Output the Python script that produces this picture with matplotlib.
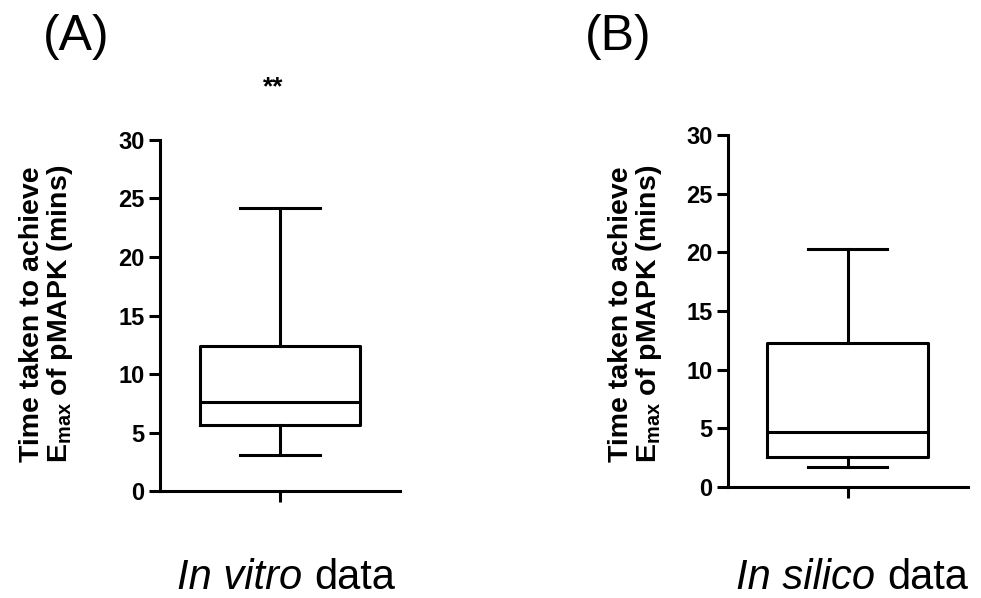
import matplotlib
matplotlib.use("Agg")
import matplotlib.pyplot as plt

plt.rcParams["font.family"] = ["Liberation Sans", "DejaVu Sans"]
plt.rcParams["mathtext.fontset"] = "custom"
plt.rcParams["mathtext.bf"] = "Liberation Sans:bold"
plt.rcParams["mathtext.rm"] = "Liberation Sans:bold"

# box statistics (mins)
panels = ["(A)", "(B)"]
groups = ["In vitro", "In silico"]
whislo = [3.1, 1.7]
q1 = [5.6, 2.6]
med = [7.6, 4.7]
q3 = [12.4, 12.3]
whishi = [24.2, 20.3]
marks = ["**", ""]
yticks = [0, 5, 10, 15, 20, 25, 30]

fig = plt.figure(figsize=(9.81, 5.98), dpi=100)
axes_rects = [(0.1631, 0.1789, 0.2446, 0.587), (0.742, 0.1856, 0.2446, 0.5886)]
label_x = [47, 636]
panel_x = [76, 618]
split_x = [314, 887]   # where italic group name ends and "data" begins

lw = 2.2
for i, rect in enumerate(axes_rects):
    ax = fig.add_axes(rect)
    stats = [dict(whislo=whislo[i], q1=q1[i], med=med[i], q3=q3[i],
                  whishi=whishi[i], fliers=[])]
    ax.bxp(stats, positions=[1], widths=0.67, showfliers=False,
           boxprops=dict(color="black", lw=lw),
           medianprops=dict(color="black", lw=lw),
           whiskerprops=dict(color="black", lw=lw),
           capprops=dict(color="black", lw=lw),
           capwidths=0.33)
    ax.set_xlim(0.5, 1.5)
    ax.set_ylim(0, 30)
    ax.set_yticks(yticks)
    ax.set_xticks([1])
    ax.set_xticklabels([""])
    for s in ["top", "right"]:
        ax.spines[s].set_visible(False)
    for s in ["left", "bottom"]:
        ax.spines[s].set_linewidth(lw)
    ax.tick_params(width=lw, length=8, labelsize=17, pad=3)
    for t in ax.get_yticklabels():
        t.set_fontweight("bold")

    fig.text(label_x[i] / 981, 1 - 314 / 598,
             "Time taken to achieve\nE$_{\\mathbf{max}}$ of pMAPK (mins)",
             rotation=90, ha="center", va="center", fontsize=20.5,
             fontweight="bold", linespacing=1.0)
    fig.text(panel_x[i] / 981, 1 - 37 / 598, panels[i], ha="center",
             va="center", fontsize=36)
    fig.text(split_x[i] / 981, 1 - 578 / 598, groups[i] + " ",
             ha="right", va="center", fontsize=30, style="italic")
    fig.text(split_x[i] / 981, 1 - 578 / 598, "data", ha="left",
             va="center", fontsize=30)
    if marks[i]:
        fig.text(273 / 981, 1 - 87 / 598, marks[i], ha="center",
                 va="center", fontsize=19, fontweight="bold")

fig.savefig("out.png", dpi=100)
